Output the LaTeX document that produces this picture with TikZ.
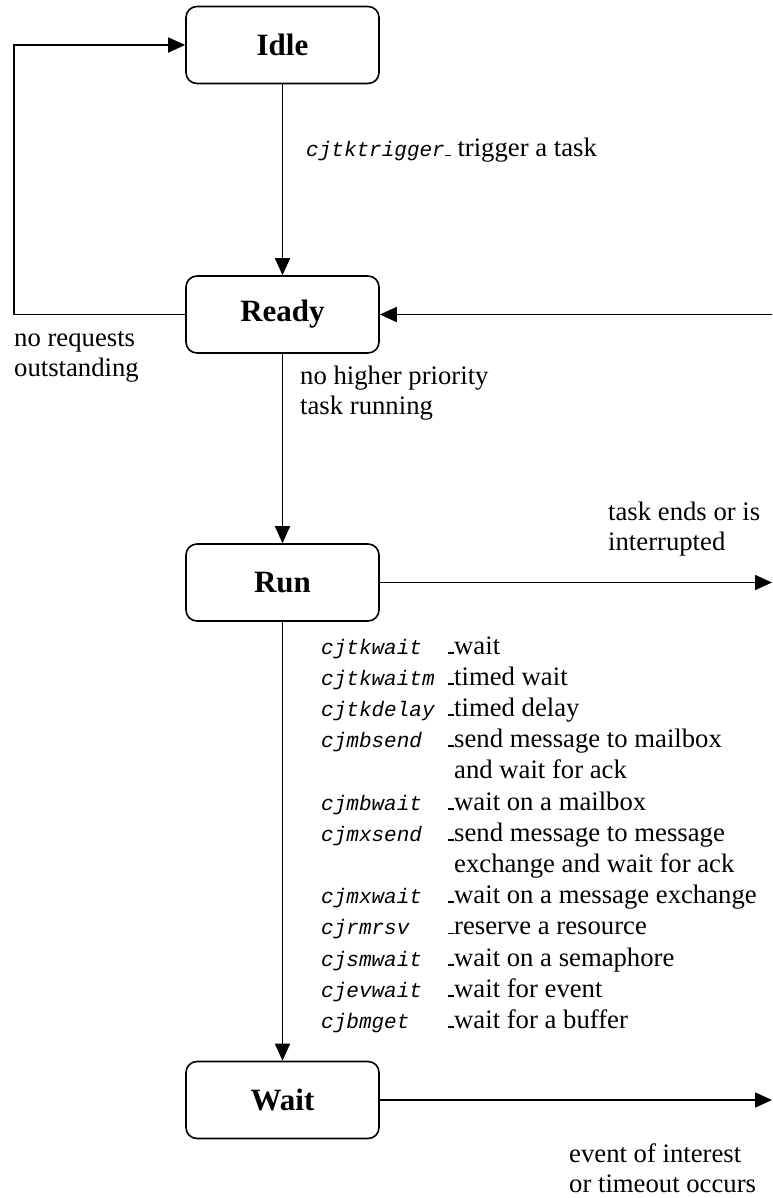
\documentclass[tikz,border=0pt]{standalone}
\usepackage{fontspec}
\setmainfont{Liberation Serif}
\newfontfamily\codefont{Liberation Mono}
\usetikzlibrary{arrows.meta}
\newcommand{\cd}[1]{{\codefont\itshape\fontsize{21}{31.2}\selectfont #1}}
\newcommand{\dsh}{\rule[0.5pt]{6pt}{1.8pt}}
\newcommand{\dsp}{\hspace*{6pt}}
\newcommand{\twol}[2]{\begin{tabular}[t]{@{}l@{}}#1\\#2\end{tabular}}
\begin{document}
\begin{tikzpicture}[x=1pt,y=-1pt,
  state/.style={draw, line width=1.6pt, rounded corners=11pt, minimum width=193pt,
    minimum height=77pt, inner sep=0pt, font=\fontsize{31}{36}\selectfont\bfseries},
  lbl/.style={inner sep=0pt, anchor=base west, font=\fontsize{26.7}{30}\selectfont},
  conn/.style={line width=1.6pt, -{Triangle[length=17pt,width=15pt]}}]
\useasboundingbox (0,0) rectangle (772,1198);
% states
\node[state] (idle)  at (282.5,45)    {Idle};
\node[state] (ready) at (282.5,314.5) {Ready};
\node[state] (run)   at (282.5,582.5) {Run};
\node[state] (wait)  at (282.5,1100)  {Wait};
% free ends
\coordinate (fb)   at (14,200);
\coordinate (rin)  at (772,314.5);
\coordinate (rout) at (772,582.5);
\coordinate (wout) at (772,1100);
% connectors
\draw[conn] (idle) -- (ready);
\draw[conn] (ready) -- (run);
\draw[conn] (run) -- (wait);
\draw[conn] (ready.west) -| (fb) |- (idle.west);
\draw[conn] (rin) -- (ready.east);
\draw[conn] (run.east) -- (rout);
\draw[conn] (wait.east) -- (wout);
% labels
\node[lbl] (trig) at (306,157) {\cd{cjtktrigger}\dsh\ trigger a task};
\node[lbl] (noreq) at (14,346) {\twol{no requests}{outstanding}};
\node[lbl] (nohigh) at (300,384) {\twol{no higher priority}{task running}};
\node[lbl] (tend) at (608,520) {\twol{task ends or is}{interrupted}};
\node[lbl] (evt) at (569,1162) {\twol{event of interest}{or timeout occurs}};
\node[lbl, font=\fontsize{26.7}{31.2}\selectfont] (calls) at (321,654) {%
\begin{tabular}[t]{@{}p{127pt}@{}l@{}}
\cd{cjtkwait}  & \dsh wait\\
\cd{cjtkwaitm} & \dsh timed wait\\
\cd{cjtkdelay} & \dsh timed delay\\
\cd{cjmbsend}  & \dsh send message to mailbox\\
               & \dsp and wait for ack\\
\cd{cjmbwait}  & \dsh wait on a mailbox\\
\cd{cjmxsend}  & \dsh send message to message\\
               & \dsp exchange and wait for ack\\
\cd{cjmxwait}  & \dsh wait on a message exchange\\
\cd{cjrmrsv}   & \dsh reserve a resource\\
\cd{cjsmwait}  & \dsh wait on a semaphore\\
\cd{cjevwait}  & \dsh wait for event\\
\cd{cjbmget}   & \dsh wait for a buffer
\end{tabular}};
\end{tikzpicture}
\end{document}
